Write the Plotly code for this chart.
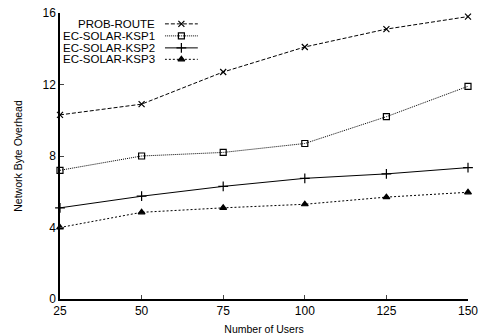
import plotly.graph_objects as go

users = [25, 50, 75, 100, 125, 150]
prob_route = [10.3, 10.9, 12.7, 14.1, 15.1, 15.8]
ksp1 = [7.2, 8.0, 8.2, 8.7, 10.2, 11.9]
ksp2 = [5.1, 5.75, 6.3, 6.75, 7.0, 7.35]
ksp3 = [4.0, 4.85, 5.1, 5.3, 5.7, 5.97]
series_names = ["PROB-ROUTE", "EC-SOLAR-KSP1", "EC-SOLAR-KSP2", "EC-SOLAR-KSP3"]
y_ticks = [0, 4, 8, 12, 16]

series = [prob_route, ksp1, ksp2, ksp3]
dashes = ["4px,2px", "1px,1px", "solid", "2px,2px"]
symbols = ["x-thin-open", "square-open", "cross-thin-open", "triangle-up"]
sizes = [6, 6, 7, 6]
FONT = "Liberation Sans, Arial, sans-serif"

fig = go.Figure()
for name, vals, d, s, sz in zip(series_names, series, dashes, symbols, sizes):
    fig.add_trace(go.Scatter(
        x=users, y=vals, name=name, mode="lines+markers", showlegend=False,
        cliponaxis=False,
        line=dict(color="black", width=1, dash=d),
        marker=dict(symbol=s, size=sz, color="black",
                    line=dict(color="black", width=1.2)),
    ))

# custom legend (text right-aligned, sample on the right), like gnuplot
row_y = [0.962, 0.920, 0.878, 0.838]
for i, (name, d, s, sz) in enumerate(zip(series_names, dashes, symbols, sizes)):
    fig.add_trace(go.Scatter(
        x=[0.0, 0.5, 1.0], y=[row_y[i]] * 3, mode="lines", xaxis="x2", yaxis="y2",
        showlegend=False, hoverinfo="skip",
        line=dict(color="black", width=1, dash=d),
    ))
    fig.add_trace(go.Scatter(
        x=[0.5], y=[row_y[i]], mode="markers", xaxis="x2", yaxis="y2",
        showlegend=False, hoverinfo="skip",
        marker=dict(symbol=s, size=sz, color="black", line=dict(color="black", width=1.2)),
    ))
    fig.add_annotation(text=name, xref="paper", yref="paper", x=0.237, y=row_y[i],
                       xanchor="right", yanchor="middle", showarrow=False,
                       font=dict(family=FONT, size=11.5, color="black"))

fig.update_layout(
    width=482, height=335,
    margin=dict(l=60, r=14, t=13, b=36, autoexpand=False),
    paper_bgcolor="white", plot_bgcolor="rgba(0,0,0,0)",
    font=dict(family=FONT, size=11, color="black"),
    xaxis=dict(range=[25, 150], tickvals=users, ticks="inside", ticklen=4,
               tickwidth=1, showline=True, linecolor="black", linewidth=1.5,
               showgrid=False, zeroline=False, mirror=False, automargin=False,
               title=dict(text="Number of Users", font=dict(size=10.5), standoff=8),
               tickfont=dict(size=12)),
    yaxis=dict(range=[0, 16], tickvals=y_ticks, ticks="inside", ticklen=4,
               tickwidth=1, showline=True, linecolor="black", linewidth=1.5,
               showgrid=False, zeroline=False, automargin=False,
               title=dict(text="Network Byte Overhead", font=dict(size=10.5), standoff=18),
               tickfont=dict(size=12)),
    xaxis2=dict(domain=[0.257, 0.338], range=[0, 1], visible=False, anchor="y2",
                automargin=False),
    yaxis2=dict(domain=[0, 1], range=[0, 1], visible=False, anchor="x2",
                automargin=False),
)

fig.write_html("out.html", config={"displayModeBar": False},
               post_script="document.body.style.margin='0px';document.body.style.overflow='hidden';")
